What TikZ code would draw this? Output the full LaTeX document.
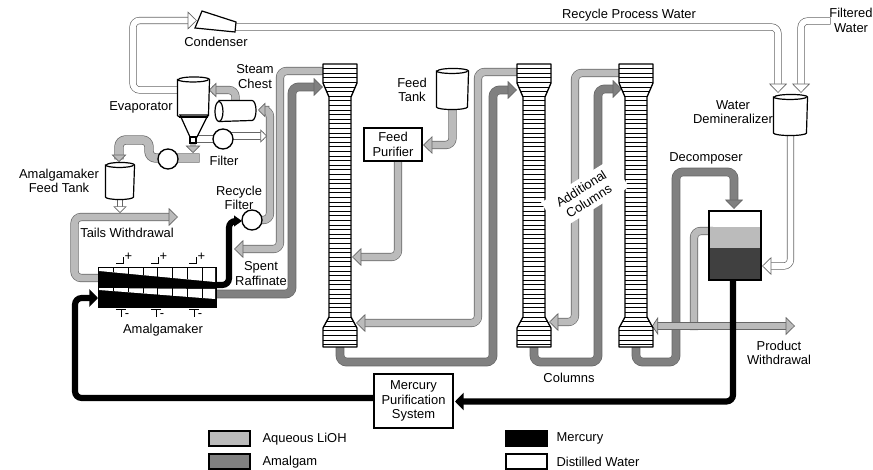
\documentclass[tikz,border=0pt]{standalone}
\usepackage{fontspec}
\setmainfont{Liberation Sans}
\usetikzlibrary{arrows.meta,backgrounds}
\definecolor{liohgray}{HTML}{BBBBBB}
\definecolor{amalgamgray}{HTML}{808080}
\definecolor{darkgray}{HTML}{404040}
\definecolor{edgegray}{HTML}{666666}
\tikzset{
  liohpipe/.style={draw=edgegray,line width=.5pt,double=liohgray,double distance=5.2pt,rounded corners=5pt,line cap=rect},
  amalgampipe/.style={draw=edgegray,line width=.5pt,double=amalgamgray,double distance=5.6pt,rounded corners=5pt,line cap=rect},
  waterpipe/.style={draw=edgegray,line width=.5pt,double=white,double distance=4.4pt,rounded corners=5pt,line cap=rect},
  mercurypipe/.style={draw=black,line width=4.6pt,rounded corners=5pt},
  lioharrow/.style={-{Triangle[length=7pt,width=13.5pt,fill=liohgray,line width=.5pt]}},
  liohsmall/.style={-{Triangle[length=5.5pt,width=11pt,fill=liohgray,line width=.5pt]}},
  amalgamarrow/.style={-{Triangle[length=7pt,width=13.5pt,fill=amalgamgray,line width=.5pt]}},
  waterarrow/.style={-{Triangle[length=7pt,width=13.5pt,fill=white,line width=.5pt]}},
  watersmall/.style={-{Triangle[length=5pt,width=10pt,fill=white,line width=.5pt]}},
  mercuryarrow/.style={-{Triangle[length=6.5pt,width=13pt]}},
  mercurysmall/.style={-{Triangle[length=6pt,width=8pt]}},
  tank/.style={inner sep=0pt,minimum width=#1},
  filter/.style={circle,draw,fill=white,line width=1pt,minimum size=15pt,inner sep=0pt},
  unitbox/.style={draw,fill=white,line width=1.6pt,inner sep=0pt,align=center},
  legendbox/.style={draw,line width=1.5pt,minimum width=31pt,minimum height=11.5pt,inner sep=0pt},
  label/.style={align=center,inner sep=0pt,yshift=-.6pt},
  columnshape/.style={insert path={({#1-17},64) -- ({#1+17},64) -- ({#1+17},83) -- ({#1+11},97) -- ({#1+11},317)
    -- ({#1+17},328) -- ({#1+17},347) -- ({#1-17},347) -- ({#1-17},328) -- ({#1-11},317) -- ({#1-11},97) -- ({#1-17},83) -- cycle}}
}
\begin{document}
\begin{tikzpicture}[x=.75pt,y=-.75pt,font=\fontsize{9.7}{10.9}\selectfont,line width=.8pt]
  \useasboundingbox (0,0) rectangle (873,470);
  \foreach \portname/\portat in {raffinateout/{323,71},raffinateend/{234,249},hgfeedend/{98,298},filterin/{242,221},
    tailsout/{98,278},tailsend/{178,217},col1feed/{352,257},col1in/{356,323},col2in/{549,322},
    col1top/{323,87},col2top/{517,90},col3top/{622,89},col2out/{517,72},col3out/{619,73},
    col1base/{340,347},col2base/{534,347},col3base/{636,347},
    decompin/{734,209},decompwater/{762,266},decomplioh/{709,231},productleft/{652,326},productright/{795,326},
    productjoin/{694,326},evapin/{209,90},chestin/{258,110},evapwater/{179,90},
    condin/{197,20.5},condout/{236,27},demin1/{778,93},demin2/{801,93},filteredin/{827,21},
    stemtop/{193,143},stemend/{193,153},filtbox/{196,139},sludge/{195,158},feedend/{119,162},
    filterout/{267,136},mercuryout/{733,280},purifyin/{455,401.5}}
    \coordinate (\portname) at (\portat);
  \foreach \cid/\cx in {1/340,2/534,3/636} {
    \fill[white,columnshape=\cx];
    \begin{scope}
      \clip[columnshape=\cx];
      \foreach \hy in {68.6,73.2,...,345} {
        \draw[line width=.55pt] ({\cx-18},\hy) -- ({\cx+18},\hy);
      }
    \end{scope}
    \draw[line width=1pt,line join=round,columnshape=\cx];
  }
  \node[label,fill=white,rotate=32,minimum width=62pt,minimum height=25pt] (additional) at (585,194) {Additional\\Columns};
  \fill[liohgray] (710,227) rectangle (760,248);
  \fill[darkgray] (710,248) rectangle (760,279);
  \node[unitbox,fill=none,minimum width=38.5pt,minimum height=52pt] (decomposer) at (735,245.5) {};
  \node[unitbox,minimum width=59pt,minimum height=40.5pt] (mercurysys) at (413.5,401) {Mercury\\Purification\\System};
  \node[unitbox,minimum width=43.5pt,minimum height=25pt] (purifier) at (393,144.5) {Feed\\Purifier};
  \node[tank=23.25pt,minimum height=26.25pt] (evaporator) at (193.5,97.5) {};
  \node[tank=21pt,minimum height=23.25pt] (feedtank) at (120,181) {};
  \node[tank=23.25pt,minimum height=26.25pt] (feedstore) at (452.5,89) {};
  \node[tank=24.75pt,minimum height=26.25pt] (demineralizer) at (790.5,115) {};
  \foreach \tname/\rx in {evaporator/15.5,feedtank/14,feedstore/15.5,demineralizer/16.5} {
    \draw[fill=white,line width=.9pt] (\tname.north west) -- (\tname.south west)
      arc[start angle=180,end angle=0,x radius=\rx,y radius=2.5] -- (\tname.north east)
      arc[start angle=0,end angle=-180,x radius=\rx,y radius=2.5] -- cycle;
    \draw[line width=.9pt] (\tname.north west) arc[start angle=180,end angle=0,x radius=\rx,y radius=2.5];
  }
  \draw[fill=white,line width=.9pt] (180,115) -- (190,137) -- (197,137) -- (208,115) -- cycle;
  \draw[line width=.9pt] (179,117) -- (208,117);
  \draw[fill=white,line width=.9pt] (190,137) rectangle (196,143);
  \node[tank=24pt,minimum height=15pt] (steamchest) at (235.5,111) {};
  \draw[fill=white,line width=.9pt] (steamchest.north west) -- (steamchest.north east)
    arc[start angle=-90,end angle=90,x radius=4,y radius=10] -- (steamchest.south west)
    arc[start angle=90,end angle=270,x radius=4,y radius=10] -- cycle;
  \draw[line width=.9pt] (steamchest.south west) arc[start angle=90,end angle=-90,x radius=4,y radius=10];
  \node[filter] (evapfilter) at (223,139) {};
  \node[filter] (feedfilter) at (168,159) {};
  \node[filter] (recyclefilter) at (252,220) {};
  \draw[fill=white,line width=.9pt] (202,11) -- (236,22) -- (235,32) -- (195,28) -- cycle;
  \node[draw,fill=black,minimum width=88.5pt,minimum height=30pt,inner sep=0pt,line width=.6pt] (amalgamaker) at (157,287) {};
  \fill[white] (99,268) -- (215,268) -- (215,282) -- (99,271) -- cycle;
  \fill[white] (99,288) -- (215,289) -- (215,299) -- (99,290) -- cycle;
  \foreach \gx in {113,128,143,157,172,187,202} {
    \draw[line width=.5pt] (\gx,268) -- (\gx,{271+(\gx-98)*11/118});
    \draw[line width=.5pt] (\gx,288) -- (\gx,{290+(\gx-98)*9/118});
  }
  \foreach \dx/\eid in {0/a,35/b,73/c} {
    \draw[line width=.6pt] ({116+\dx},263) -- ({124+\dx},263);
    \draw[line width=.6pt] ({123+\dx},257) -- ({123+\dx},263);
    \node[label] (plus\eid) at ({128.5+\dx},256) {+};
    \draw[line width=.6pt] ({116+\dx},309) -- ({126+\dx},309);
    \draw[line width=.6pt] ({121+\dx},309) -- ({121+\dx},317);
    \node[label] (minus\eid) at ({127+\dx},314.5) {-};
  }
  \begin{scope}[on background layer]
    \draw[amalgampipe,amalgamarrow] (amalgamaker.east |- 0,294) -- (292,294) -- (292,87) -- (col1top);
    \draw[amalgampipe,amalgamarrow] (col1base) -- (340,362) -- (493,362) -- (493,90) -- (col2top);
    \draw[amalgampipe,amalgamarrow] (col2base) -- (534,362) -- (598,362) -- (598,89) -- (col3top);
    \draw[amalgampipe,amalgamarrow] (col3base) -- (636,362) -- (676,362) -- (676,172) -- (734,172) -- (decompin);
    \draw[liohpipe,lioharrow] (raffinateout) -- (280,71) -- (280,249) -- (raffinateend);
    \draw[liohpipe,liohsmall] (recyclefilter) -- (270,220) -- (270,110) -- (chestin);
    \draw[liohpipe,lioharrow] (tailsout) -- (74.5,278) -- (74.5,217) -- (tailsend);
    \draw[liohpipe,lioharrow] (feedstore.south) -- (452.5,145) -- (purifier.east |- 0,145);
    \draw[liohpipe,lioharrow] (purifier.south -| 398,0) -- (398,257) -- (col1feed);
    \draw[liohpipe,lioharrow] (col2out) -- (478,72) -- (478,323) -- (col1in);
    \draw[liohpipe,lioharrow] (col3out) -- (575,73) -- (575,322) -- (col2in);
    \draw[liohpipe] (decomplioh) -- (694,231) -- (productjoin);
    \draw[liohpipe,{Triangle[length=4.5pt,width=13.5pt,fill=liohgray,line width=.5pt]}-{Triangle[length=7pt,width=13.5pt,fill=liohgray,line width=.5pt]}] (productleft) -- (productright);
    \draw[liohpipe,liohsmall] (steamchest.north) -- (235.5,90) -- (evapin);
    \draw[liohpipe,double distance=6pt,liohsmall] (sludge) -- (149,158) -- (149,140) -- (119,140) -- (feedend);
    \draw[liohpipe,double distance=4pt,liohsmall] (stemtop) -- (stemend);
    \draw[waterpipe,waterarrow] (evapwater) -- (133,90) -- (133,20.5) -- (condin);
    \draw[waterpipe,waterarrow] (condout) -- (778,27) -- (demin1);
    \draw[waterpipe,waterarrow] (filteredin) -- (801,21) -- (demin2);
    \draw[waterpipe,waterarrow] (demineralizer.south) -- (790.5,266) -- (decompwater);
    \draw[waterpipe] (filtbox) -- (evapfilter);
    \draw[waterpipe,watersmall] (evapfilter |- filterout) -- (filterout);
    \draw[waterpipe,double distance=3.5pt,watersmall] (feedtank.south) -- (120,213);
    \draw[mercurypipe,mercuryarrow] (mercuryout) -- (733,401.5) -- (purifyin);
    \draw[mercurypipe,mercuryarrow] (mercurysys.west |- 0,398) -- (75,398) -- (75,298) -- (hgfeedend);
    \draw[mercurypipe,mercurysmall] (amalgamaker.east |- 0,285) -- (229,285) -- (229,221) -- (filterin);
  \end{scope}
  \node[label] (lcondenser) at (216,41) {Condenser};
  \node[label] (lrecycle) at (629,14) {Recycle Process Water};
  \node[label] (lfiltered) at (851,19.5) {Filtered\\Water};
  \node[label] (lsteam) at (255,75.5) {Steam\\Chest};
  \node[label] (levaporator) at (141,107) {Evaporator};
  \node[label] (lfilter) at (224,160) {Filter};
  \node[label] (lfeedtank) at (59,180) {Amalgamaker\\Feed Tank};
  \node[label] (lrecfilter) at (239,197) {Recycle\\Filter};
  \node[label] (ltails) at (127,232) {Tails Withdrawal};
  \node[label] (lspent) at (261,272.5) {Spent\\Raffinate};
  \node[label] (lamalgamaker) at (163,329) {Amalgamaker};
  \node[label] (ltank) at (412,89) {Feed\\Tank};
  \node[label] (lcolumns) at (569,377) {Columns};
  \node[label] (ldecomposer) at (706,158) {Decomposer};
  \node[label] (ldemin) at (733,111.5) {Water\\Demineralizer};
  \node[label] (lproduct) at (779,352) {Product\\Withdrawal};
  \node[legendbox,fill=liohgray] (keylioh) at (229.5,438.5) {};
  \node[legendbox,fill=amalgamgray] (keyamalgam) at (229.5,461.5) {};
  \node[legendbox,fill=black] (keymercury) at (526.5,438.5) {};
  \node[legendbox,fill=white] (keywater) at (526.5,461.5) {};
  \node[label,anchor=west] (tlioh) at (262,438) {Aqueous LiOH};
  \node[label,anchor=west] (tamalgam) at (262,461) {Amalgam};
  \node[label,anchor=west] (tmercury) at (556,438) {Mercury};
  \node[label,anchor=west] (twater) at (556,461) {Distilled Water};
\end{tikzpicture}
\end{document}
